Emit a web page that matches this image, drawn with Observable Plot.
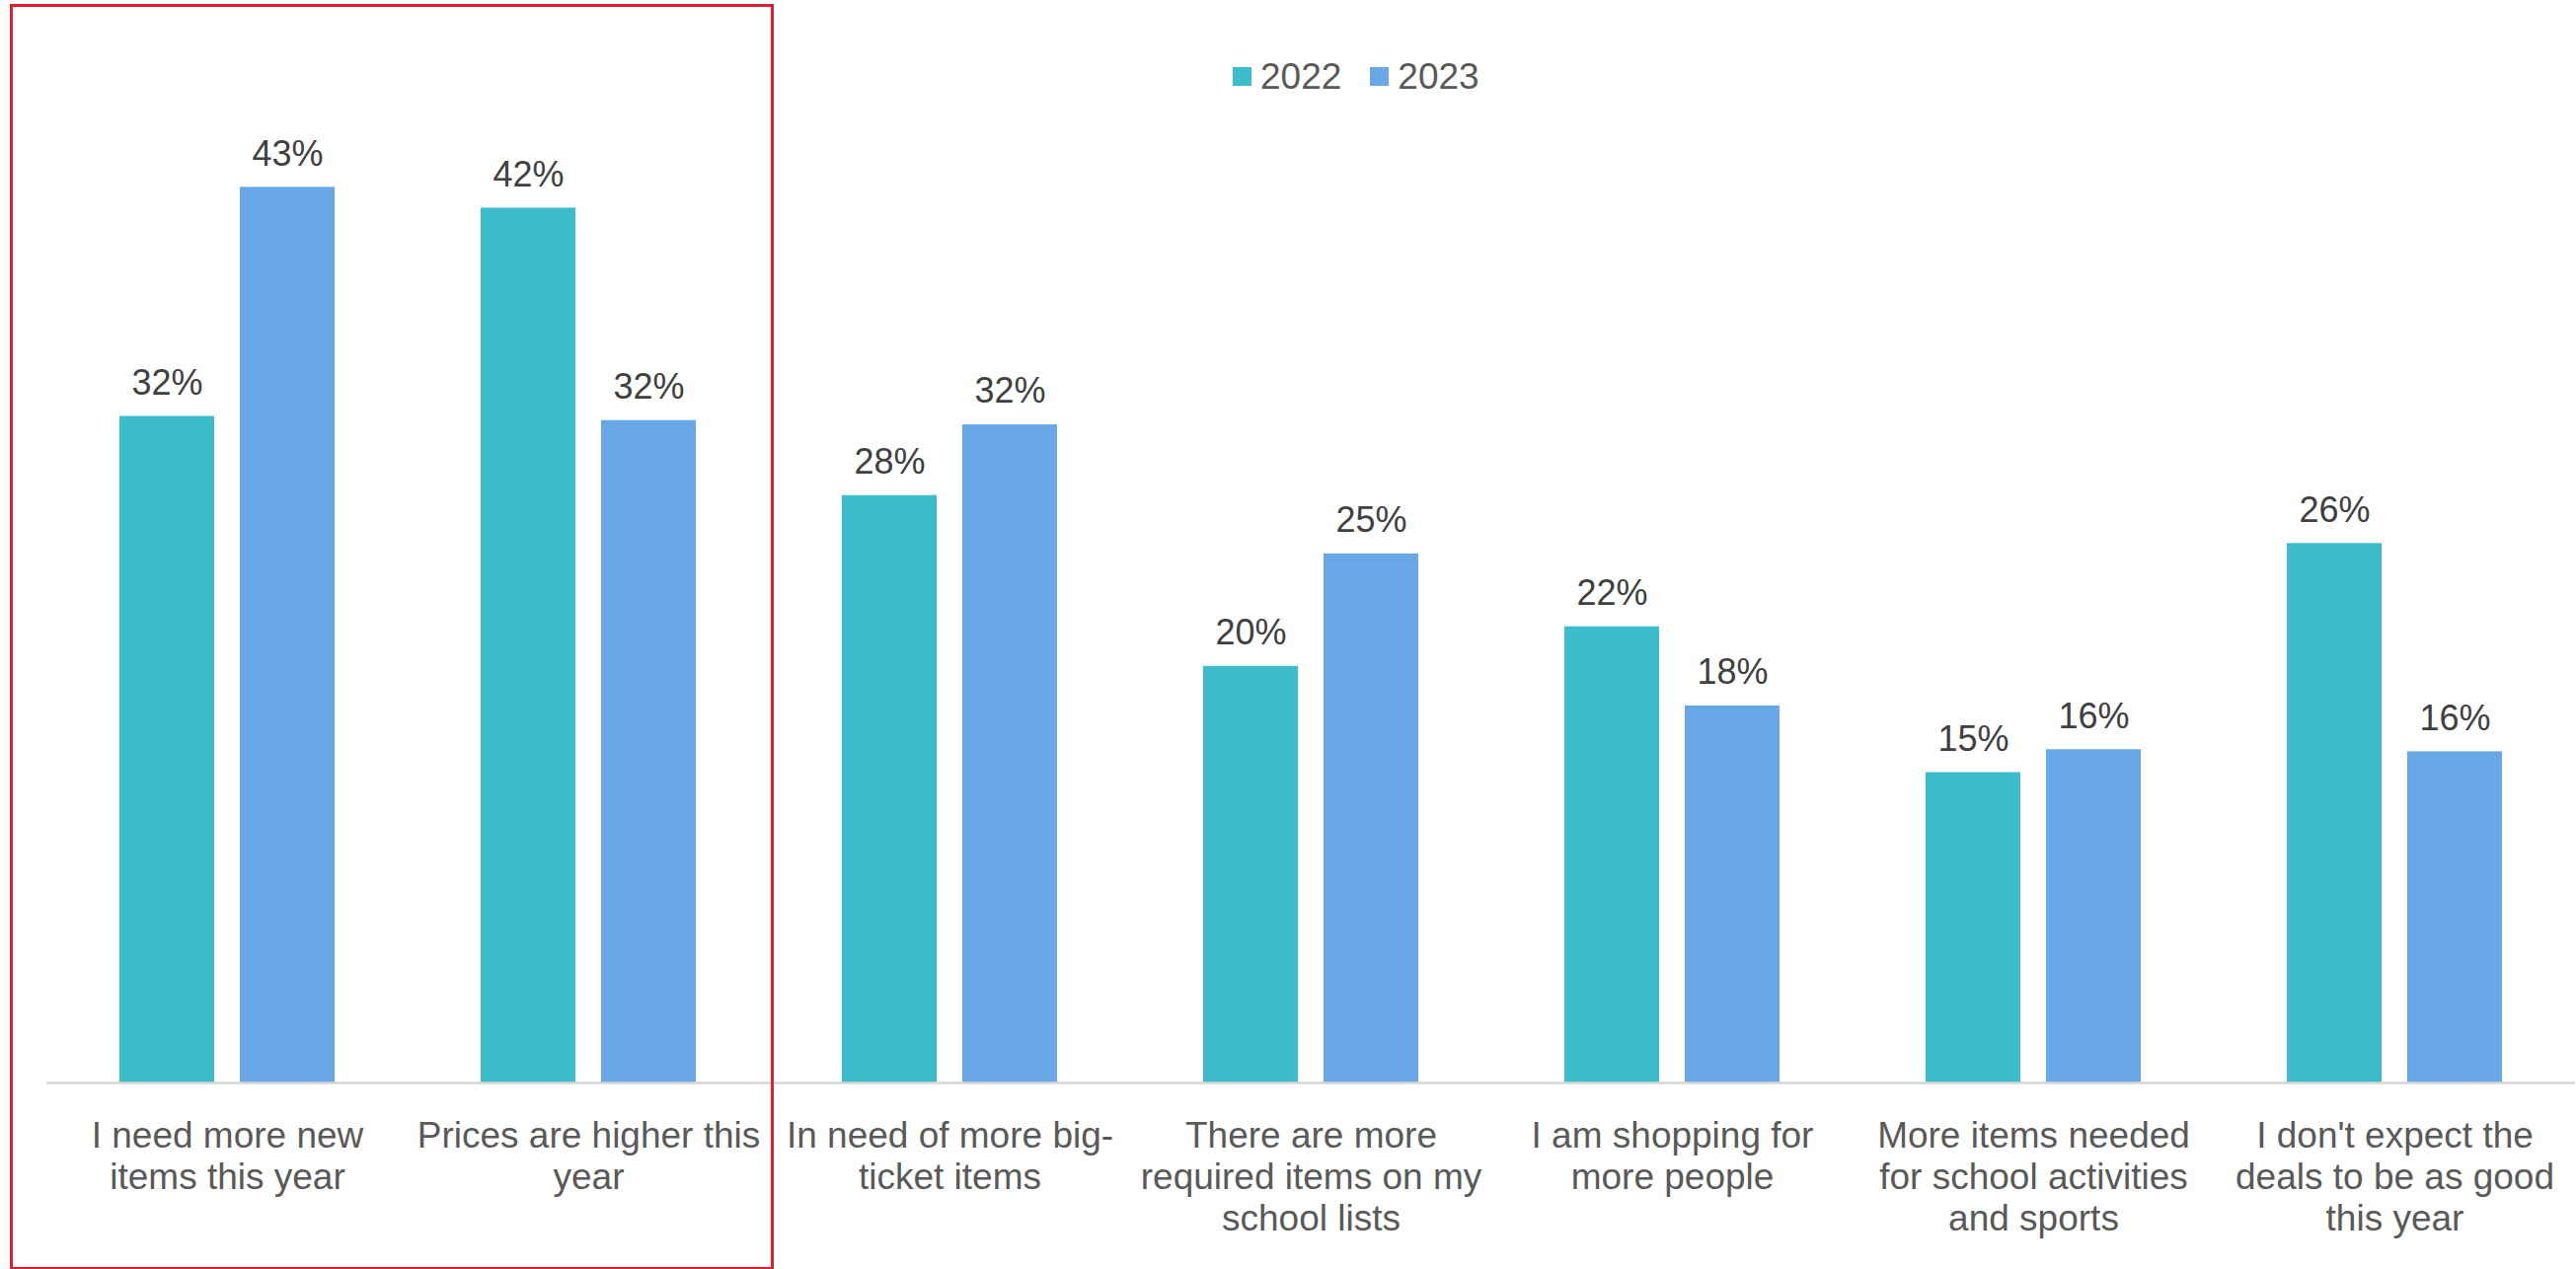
<!DOCTYPE html>
<html>
<head>
<meta charset="utf-8">
<script src="https://cdn.jsdelivr.net/npm/d3@7"></script>
<script src="https://cdn.jsdelivr.net/npm/@observablehq/plot@0.6"></script>
<style>
  html, body { margin: 0; padding: 0; background: #ffffff; overflow: hidden; }
  #wrap { position: relative; width: 2610px; height: 1286px; font-family: "Liberation Sans", Arial, Helvetica, sans-serif; }
  #legend { position: relative; height: 110px; }
  #legend .items { position: absolute; left: 1249px; top: 59px; display: flex; align-items: center; font-size: 37px; color: #595959; line-height: 1; }
  #legend .sw { width: 19px; height: 19px; display: inline-block; margin-right: 9px; }
  #legend .item { display: flex; align-items: center; margin-right: 29px; }
  #highlight { position: absolute; left: 10px; top: 4px; width: 774px; height: 1283px; border: 3.5px solid #df1f2d; box-sizing: border-box; pointer-events: none; }
</style>
</head>
<body>
<div id="wrap">
  <div id="legend"><div class="items"></div></div>
  <div id="chart"></div>
  <div id="highlight"></div>
</div>
<script>
// ---- data ----
const categories = [
  "I need more new items this year",
  "Prices are higher this year",
  "In need of more big-ticket items",
  "There are more required items on my school lists",
  "I am shopping for more people",
  "More items needed for school activities and sports",
  "I don't expect the deals to be as good this year"
];
const categoryLabels = [
  "I need more new\nitems this year",
  "Prices are higher this\nyear",
  "In need of more big-\nticket items",
  "There are more\nrequired items on my\nschool lists",
  "I am shopping for\nmore people",
  "More items needed\nfor school activities\nand sports",
  "I don't expect the\ndeals to be as good\nthis year"
];
const years = ["2022", "2023"];
const values2022 = [32, 42, 28.2, 20, 21.9, 14.9, 25.9];
const values2023 = [43, 31.8, 31.6, 25.4, 18.1, 16, 15.9];
const colors = ["#3cbdcb", "#68a8e6"];

// ---- table for Plot ----
const data = categories.flatMap((c, i) => [
  {category: c, year: years[0], value: values2022[i]},
  {category: c, year: years[1], value: values2023[i]}
]);
const labelOf = new Map(categories.map((c, i) => [c, categoryLabels[i]]));

// ---- legend ----
const items = document.querySelector("#legend .items");
years.forEach((y, i) => {
  const it = document.createElement("span");
  it.className = "item";
  const sw = document.createElement("span");
  sw.className = "sw";
  sw.style.background = colors[i];
  it.appendChild(sw);
  it.appendChild(document.createTextNode(y));
  items.appendChild(it);
});

// ---- chart ----
const font = "'Liberation Sans', Arial, Helvetica, sans-serif";
const chart = Plot.plot({
  width: 2610,
  height: 1176,
  marginLeft: 45,
  marginRight: 0,
  marginTop: 16,
  marginBottom: 189,
  style: {fontFamily: font, fontSize: "37px", background: "#ffffff", color: "#595959", overflow: "visible"},
  fx: {domain: categories, padding: 0, label: null, axis: null},
  x: {domain: years, paddingInner: 0.21, paddingOuter: 0.6, axis: null},
  y: {domain: [0, 46], axis: null},
  color: {domain: years, range: colors},
  marks: [
    Plot.barY(data, {fx: "category", x: "year", y: "value", fill: "year"}),
    Plot.ruleY([0], {stroke: "#d6d6d6", strokeWidth: 2.5}),
    Plot.text(data, {
      fx: "category", x: "year", y: "value",
      text: d => Math.round(d.value) + "%",
      lineAnchor: "bottom", dy: -22,
      fill: "#404040", fontSize: 36
    }),
    Plot.axisFx({
      anchor: "bottom",
      tickSize: 0,
      tickPadding: 36,
      label: null,
      tickFormat: c => labelOf.get(c),
      lineHeight: 1.13,
      fontSize: 37,
      fill: "#595959"
    })
  ]
});
document.getElementById("chart").appendChild(chart);
</script>
</body>
</html>
